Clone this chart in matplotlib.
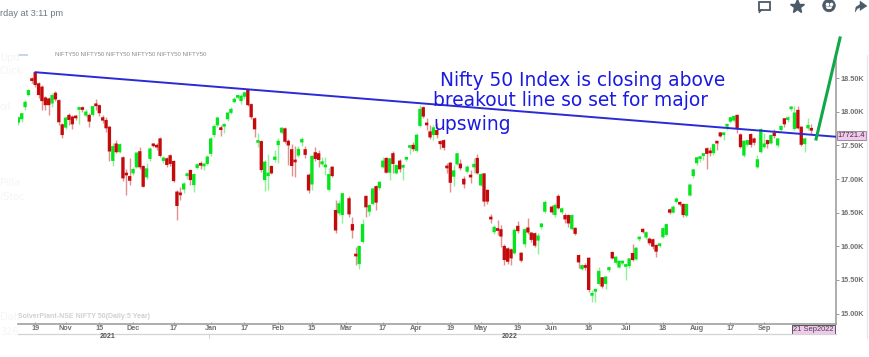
import numpy as np
import matplotlib
matplotlib.use("Agg")
import matplotlib.pyplot as plt
from matplotlib.patches import Rectangle, Polygon, Circle

nan = float("nan")

opens = [17840,17890,18070,18250,18490,18590,18425,18375,18215,18200,
18125,18285,18175,17815,17765,17955,17930,17925,18030,18065,
17945,17955,17955,18125,18100,17920,17880,17780,17270,17530,
17400,17325,17075,17045,17085,17175,17415,17195,17025,17300,
17510,17495,17605,17270,17310,17355,17270,16815,16775,16845,
17045,17135,16910,17165,17220,17190,17225,17375,17655,17800,
17755,17780,17890,17985,18145,18210,18160,18225,18325,18115,
17905,17540,17565,16985,17045,17195,17285,17505,17690,17755,
17570,17445,17270,17350,17545,17445,17065,16920,17400,17385,
17220,17175,16840,17185,16540,16490,16465,nan,16715,16330,
15865,15735,16065,16750,16515,16630,16895,16865,17175,17315,
17095,17385,17085,17275,17170,17290,17465,17510,17420,17790,
18070,17830,17710,17655,17730,17565,17580,17175,17245,17035,
17220,17230,17005,17110,17060,17175,17315,16905,17085,16840,
16410,16210,16245,16255,16005,15970,15955,15895,16305,15905,
16030,16280,16205,16195,16085,16285,16515,nan,16590,16465,
16750,16505,16465,16465,16255,16275,15870,15660,15720,15830,
15265,15325,15440,15540,15440,15645,15915,15755,15685,15745,
15695,15705,15900,15805,16105,16260,16130,16115,16105,16020,
16005,16135,16170,16550,16500,16660,16655,16630,16455,16755,
17045,17235,17300,17345,17460,17425,17385,17550,17695,17655,
17780,17855,17870,17955,17665,17350,17510,17670,17605,17175,
17400,17475,17580,17530,17690,17500,17730,17905,17880,18040,
17745,18030,17780,17520,17755,17755]

highs = [17940,17990,18170,18340,18525,18600,18450,18400,18235,18225,
18275,18315,18185,17840,17940,17990,17955,17955,18085,18085,
18040,17980,18100,18190,18115,17955,17920,17790,17530,17580,
17540,17345,17145,17310,17185,17410,17470,17210,17235,17470,
17530,17530,17620,17345,17335,17375,17285,16835,16885,16960,
17110,17145,17095,17245,17275,17235,17360,17630,17815,17940,
17805,17830,18005,18065,18215,18265,18265,18315,18335,18125,
17920,17690,17580,17285,17375,17210,17430,17605,17780,17770,
17590,17520,17485,17485,17620,17485,17085,17360,17475,17435,
17335,17335,17160,17195,16690,16690,16800,nan,16750,16440,
15995,16020,16400,16760,16630,16880,16910,16975,17335,17335,
17320,17420,17225,17295,17225,17320,17510,17555,17680,18105,
18090,17905,17805,17805,17830,17580,17600,17245,17260,17210,
17395,17295,17045,17210,17135,17310,17375,17085,17095,16850,
16480,16315,16390,16315,16035,15985,15970,16270,16380,15920,
16270,16415,16220,16220,16195,16350,16690,nan,16615,16640,
16780,16590,16490,16480,16480,16285,15880,15735,15745,15845,
15350,15375,15695,15550,15565,15705,15925,15855,15795,15795,
15745,15830,16030,15995,16145,16275,16235,16145,16120,16030,
16055,16285,16340,16565,16610,16730,16680,16640,16640,16930,
17155,17335,17350,17385,17475,17475,17530,17565,17705,17695,
17830,17930,17950,17970,17680,17580,17590,17690,17620,17360,
17765,17680,17590,17670,17740,17615,17805,17915,17940,18080,
18080,18090,17790,17620,17905,17815]

lows = [17805,17855,18030,18235,18425,18375,18200,18030,18030,17955,
18075,18165,17805,17605,17740,17805,17740,17880,17820,18005,
17920,17780,17940,18030,17940,17840,17705,17275,17200,17385,
17385,16975,16765,16910,17060,17160,17145,16875,17000,17275,
17470,17440,17335,17235,17175,17195,16955,16390,16690,16790,
16995,16910,16810,17145,17155,17135,17210,17345,17630,17770,
17640,17680,17870,17970,18125,18185,18115,18195,18085,17890,
17630,17470,17110,16825,16845,17075,17260,17235,17670,17530,
17210,17045,17035,17335,17485,17310,16800,16840,17275,17185,
17195,17060,16830,17025,16195,16465,16340,nan,16430,16120,
15720,15655,16045,16430,16450,16615,16540,16840,17160,17085,
16985,17085,17075,17110,16985,17275,17375,17425,17405,17770,
17905,17730,17590,17580,17605,17445,17435,17085,16815,16890,
17205,17135,16865,17085,16945,17085,17075,16895,16600,16630,
16340,16185,16170,15985,15720,15735,15720,15885,16195,15770,
15995,16185,16070,15985,15885,16255,16490,nan,16480,16440,
16550,16480,16350,16285,16245,16165,15670,15650,15650,15325,
15175,15175,15425,15375,15360,15625,15805,15735,15670,15720,
15500,15670,15785,15795,16085,16195,16115,16020,15965,15845,
15985,16125,16155,16480,16490,16640,16600,16440,16440,16745,
17010,17210,17260,17285,17150,17345,17360,17435,17620,17580,
17730,17840,17855,17690,17460,17335,17495,17475,17510,17160,
17385,17460,17460,17520,17605,17475,17720,17780,17855,18020,
17730,17740,17485,17410,17730,17670]

closes = [17920,17980,18150,18325,18460,18400,18250,18160,18100,18100,
18250,18185,17845,17655,17915,17880,17815,17905,18060,18030,
18005,17855,18085,18085,17980,17870,17755,17410,17490,17400,
17520,17010,17055,16975,17150,17395,17175,16885,17160,17455,
17490,17470,17345,17320,17210,17225,16970,16600,16760,16935,
17065,16985,17075,17220,17200,17205,17335,17605,17790,17915,
17730,17800,17990,18045,18195,18245,18240,18290,18100,17920,
17740,17555,17135,17260,17095,17085,17335,17570,17765,17555,
17500,17195,17250,17450,17595,17360,16830,17345,17300,17285,
17265,17200,17075,17045,16235,16640,16790,nan,16475,16235,
15850,16005,16330,16580,16615,16860,16650,16960,17275,17095,
17310,17225,17210,17145,17210,17310,17485,17445,17660,18045,
17930,17800,17620,17770,17655,17520,17465,17160,16945,17130,
17385,17160,16920,17185,17025,17225,17085,17075,16665,16665,
16400,16290,16230,16145,15795,15770,15820,16245,16225,15785,
16255,16205,16095,16010,16160,16340,16660,nan,16505,16615,
16565,16565,16400,16340,16465,16185,15760,15720,15680,15350,
15290,15350,15635,15400,15550,15690,15820,15845,15785,15780,
15735,15820,15795,15980,16125,16210,16210,16045,15995,15920,
16040,16270,16330,16500,16590,16710,16620,16465,16630,16920,
17145,17325,17335,17375,17375,17385,17520,17530,17635,17685,
17815,17920,17940,17755,17475,17570,17580,17510,17540,17295,
17745,17530,17520,17655,17640,17605,17790,17815,17920,18060,
17990,17755,17510,17605,17805,17721]

y_ticks = [15000, 15500, 16000, 16500, 17000, 17500, 18000, 18500]
y_tick_labels = ["15.00K", "15.50K", "16.00K", "16.50K", "17.00K", "17.50K", "18.00K", "18.50K"]
x_ticks = [5, 14, 24, 34, 46, 57, 67, 77, 87, 97, 108, 118, 128, 137, 148, 158, 169, 180, 191, 201, 211, 221]
x_tick_labels = ["19", "Nov", "15", "Dec", "17", "Jan", "17", "Feb", "15", "Mar", "17", "Apr",
                 "19", "May", "19", "Jun", "16", "Jul", "18", "Aug", "17", "Sep"]

trend_x = [5, 242.3]
trend_y = [18590, 17630]
target_x = [236.4, 243.5]
target_y = [17596, 19100]

annotation_lines = ["Nifty 50 Index is closing above", "breakout line so set for major", "upswing"]
last_price = "17721.4"
last_date = "21 Sep2022"

W, H = 869, 357
fig = plt.figure(figsize=(W / 100, H / 100), dpi=100, facecolor="white")

L, R, T, B = 18, 836, 30, 324
ax = fig.add_axes([L / W, 1 - B / H, (R - L) / W, (B - T) / H], facecolor="white")
ax.set_xlim(-0.09, 242.3)
ax.set_ylim(14844, 19218)
for s in ("top", "left"):
    ax.spines[s].set_visible(False)
for s in ("right", "bottom"):
    ax.spines[s].set_color("#a0a0a0")
    ax.spines[s].set_linewidth(1.2)
ax.spines["right"].set_bounds(14844, 18846)

ax.yaxis.tick_right()
ax.set_yticks(y_ticks)
ax.set_yticklabels(y_tick_labels, fontsize=5.2, color="#707070", family="Liberation Sans", fontweight="bold")
ax.tick_params(axis="y", length=2, width=0.6, color="#888888", pad=1)
ax.set_xticks(x_ticks)
ax.set_xticklabels(x_tick_labels, fontsize=5.2, color="#707070", family="Liberation Sans", fontweight="bold")
ax.tick_params(axis="x", length=1.5, width=0.6, color="#888888", pad=0.5, direction="in")

o, h, l, c = (np.array(a, dtype=float) for a in (opens, highs, lows, closes))
x = np.arange(len(o))
up = c >= o
RED, GREEN = "#c40a0a", "#06e41e"
for mask, col in ((up, GREEN), (~up, RED)):
    ax.vlines(x[mask], l[mask], h[mask], color=col, alpha=0.45, linewidth=1.0, zorder=2)
    bars = ax.bar(x[mask], np.maximum(np.abs(c[mask] - o[mask]), 40), bottom=np.minimum(o[mask], c[mask]),
                  width=0.98, color=col, linewidth=0, zorder=3)
    for b in bars:
        b.set_snap(False)

ax.plot(trend_x, trend_y, color="#2a2ad6", linewidth=1.4, zorder=4, solid_capstyle="round")
ax.plot(target_x, target_y, color="#10a84a", linewidth=2.2, zorder=5, clip_on=False)

ov = fig.add_axes([0, 0, 1, 1], facecolor="none")
ov.set_xlim(0, W)
ov.set_ylim(H, 0)
ov.axis("off")

for (tx, ty), line in zip([(440, 80), (433, 101), (433, 124)], annotation_lines):
    ov.text(tx, ty, line, color="#1a1ae0", fontsize=13.4, family="DejaVu Sans", va="center", ha="left", zorder=6)

ov.add_patch(Rectangle((836.5, 131), 29.5, 9, fc="#f3c8ee", ec="#8a7a8a", lw=0.6))
ov.text(851.5, 135.7, last_price, fontsize=5.4, color="#333333", ha="center", va="center", family="Liberation Sans")
ov.add_patch(Rectangle((792, 325), 43, 8.5, fc="#f3c8ee", ec="#555555", lw=0.7))
ov.text(813.5, 329.4, last_date, fontsize=5.4, color="#444444", ha="center", va="center", family="Liberation Sans")

ov.plot([18, 836], [333.5, 333.5], color="#d4d4d4", lw=0.9)
ov.plot([208.5, 208.5], [333.5, 338], color="#cccccc", lw=0.6)
ov.text(108, 336.5, "2021", fontsize=5, color="#555555", fontweight="bold", ha="center", va="center", family="Liberation Sans")
ov.text(510, 336.5, "2022", fontsize=5, color="#555555", fontweight="bold", ha="center", va="center", family="Liberation Sans")
ov.text(18, 317, "SolverPlant-NSE NIFTY 50(Daily:5 Year)", fontsize=5, color="#d0d0d0", ha="left", va="center", family="Liberation Sans", fontweight="bold")
ov.text(55, 54, "NIFTY50 NIFTY50 NIFTY50 NIFTY50 NIFTY50 NIFTY50", fontsize=4.3, color="#8c8c8c", ha="left", va="center", family="Liberation Sans")
ov.add_patch(Rectangle((18, 54), 10, 2.2, fc="#c8d8ea", ec="none"))
ov.plot([867, 867], [55, 338], color="#dfe8f4", lw=0.9)

for ty, s in [(58, "Upd"), (71, "Click"), (107, "oil"), (183, "Pilla"), (197, "/Stoc"), (317, "Dah"), (332, "326")]:
    ov.text(0, ty, s, fontsize=7, color="#f5f5f5", ha="left", va="center", family="DejaVu Sans")

ov.text(0, 13, "rday at 3:11 pm", fontsize=6.6, color="#6d7782", ha="left", va="center", family="Liberation Sans")
ICON = "#4a5a68"
ov.add_patch(Rectangle((758.5, 1.5), 11, 8.5, fc="white", ec=ICON, lw=1.3))
ov.add_patch(Polygon([(759, 10), (759, 13), (762, 10)], fc=ICON, ec=ICON, lw=0.5))
ov.plot([797], [6], marker="*", ms=10.5, color=ICON, mec=ICON, ls="none")
ov.add_patch(Circle((829, 5.5), 6.3, fc=ICON, ec=ICON, lw=0.5))
ov.plot([826.6, 831.4], [3.8, 3.8], ls="none", marker="o", ms=1.6, color="white")
ov.add_patch(Polygon([(825.5, 6.5), (832.5, 6.5), (831, 9), (827, 9)], fc="white", ec="none"))
ov.add_patch(Polygon([(855, 12), (856, 7), (860, 4.5), (860, 1), (867, 6), (860, 10.5), (860, 7.5), (857.5, 8.5)], fc=ICON, ec=ICON, lw=0.3))

fig.savefig("out.png", dpi=100, facecolor="white")
